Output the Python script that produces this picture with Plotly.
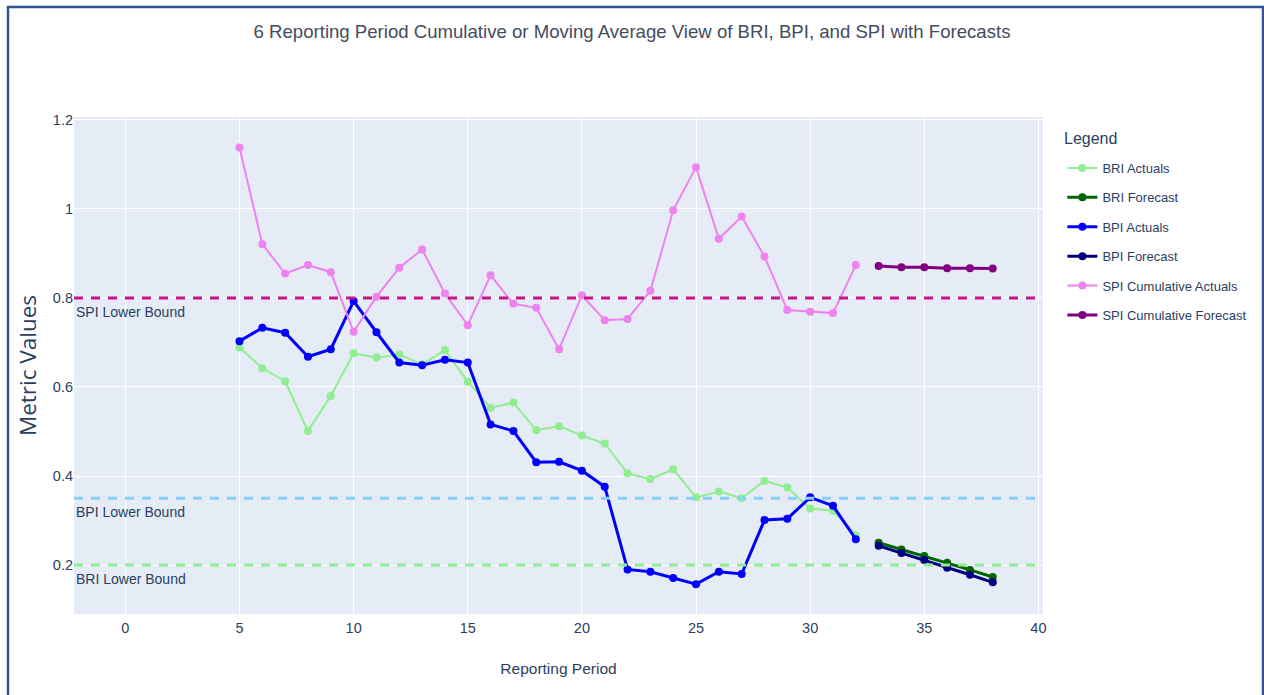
import plotly.graph_objects as go

# ---- data ----
periods_actual = list(range(5, 33))
periods_forecast = list(range(33, 39))

bri_actual = [0.689, 0.642, 0.613, 0.501, 0.580, 0.676, 0.666, 0.673, 0.651, 0.683,
              0.612, 0.553, 0.565, 0.503, 0.512, 0.491, 0.473, 0.406, 0.393, 0.415,
              0.352, 0.365, 0.350, 0.389, 0.374, 0.327, 0.322, 0.267]
bri_forecast = [0.250, 0.235, 0.220, 0.205, 0.189, 0.173]

bpi_actual = [0.703, 0.733, 0.722, 0.668, 0.685, 0.793, 0.723, 0.655, 0.649, 0.661,
              0.655, 0.516, 0.501, 0.431, 0.432, 0.412, 0.376, 0.190, 0.185, 0.171,
              0.157, 0.185, 0.180, 0.301, 0.304, 0.352, 0.333, 0.258]
bpi_forecast = [0.243, 0.227, 0.211, 0.194, 0.178, 0.161]

spi_actual = [1.138, 0.921, 0.855, 0.874, 0.858, 0.724, 0.803, 0.868, 0.909, 0.810,
              0.739, 0.851, 0.787, 0.778, 0.685, 0.806, 0.750, 0.753, 0.816, 0.997,
              1.094, 0.933, 0.983, 0.893, 0.773, 0.769, 0.766, 0.874]
spi_forecast = [0.872, 0.869, 0.869, 0.867, 0.867, 0.866]

bound_names = ["SPI Lower Bound", "BPI Lower Bound", "BRI Lower Bound"]
bound_values = [0.8, 0.35, 0.2]
bound_colors = ["#C71585", "#87CEFA", "#90EE90"]

SANS = "Liberation Sans, Arial, sans-serif"
TXT = "#2a3f5f"

fig = go.Figure()

series = [
    ("BRI Actuals", periods_actual, bri_actual, "#90EE90", 2),
    ("BRI Forecast", periods_forecast, bri_forecast, "#006400", 3),
    ("BPI Actuals", periods_actual, bpi_actual, "#0000FF", 3),
    ("BPI Forecast", periods_forecast, bpi_forecast, "#000080", 3),
    ("SPI Cumulative Actuals", periods_actual, spi_actual, "#EE82EE", 2),
    ("SPI Cumulative Forecast", periods_forecast, spi_forecast, "#800080", 3),
]
for i, (name, xs, ys, col, w) in enumerate(series):
    fig.add_trace(go.Scatter(
        x=xs, y=ys, mode="lines+markers", name=name, legendgroup=f"g{i}",
        line=dict(color=col, width=w), marker=dict(color=col, size=8)))

for name, val, col in zip(bound_names, bound_values, bound_colors):
    fig.add_hline(y=val, line=dict(color=col, width=3, dash="9px,8px"))
    fig.add_annotation(x=0, xref="paper", xanchor="left", y=val, yref="y",
                       yanchor="top", text=name, showarrow=False, yshift=-4,
                       font=dict(family=SANS, size=14, color=TXT))

# frame around the screenshot
PL, PR, PT, PB = 74, 1043, 117, 614
pw, ph = PR - PL, PB - PT
fig.add_shape(type="rect", xref="paper", yref="paper",
              x0=(8 - PL) / pw, x1=(1263 - PL) / pw,
              y0=(PB - 730) / ph, y1=(PB - 7) / ph,
              line=dict(color="#2F5597", width=2.5), layer="above")

# legend heading
fig.add_annotation(x=1.02, xref="paper", xanchor="left", y=(PB - 138) / ph, yref="paper",
                   yanchor="middle", text="Legend", showarrow=False,
                   font=dict(family=SANS, size=16, color=TXT))

fig.update_layout(
    autosize=False, width=1264, height=695,
    margin=dict(l=PL, r=1264 - PR, t=PT, b=695 - PB),
    paper_bgcolor="white", plot_bgcolor="#E5ECF6",
    font=dict(family=SANS, size=14, color=TXT),
    title=dict(text="6 Reporting Period Cumulative or Moving Average View of BRI, BPI, and SPI with Forecasts",
               x=0.5, xanchor="center", xref="container",
               y=1 - 31 / 695, yanchor="middle", yref="container",
               font=dict(family=SANS, size=18.6, color="#434c5e")),
    legend=dict(font=dict(family=SANS, size=13, color=TXT),
                x=1.02, xanchor="left", y=(PB - 153) / ph, yanchor="top",
                tracegroupgap=9.5, traceorder="grouped"),
    xaxis=dict(range=[-2.25, 40.2], dtick=5, tick0=0, gridcolor="white",
               zeroline=False, showline=False, ticklabelstandoff=3,
               title=dict(text="Reporting Period", font=dict(family=SANS, size=15.5), standoff=28),
               tickfont=dict(family=SANS, size=14.5)),
    yaxis=dict(range=[0.0899, 1.2067], dtick=0.2, tick0=0, gridcolor="white",
               zeroline=False, showline=False,
               title=dict(text="Metric Values", font=dict(family="Open Sans, DejaVu Sans, sans-serif", size=22.5), standoff=9),
               tickfont=dict(family=SANS, size=14.5)),
)

fig.write_html("out.html", config={"displayModeBar": False, "responsive": False},
               post_script="document.body.style.margin='0';")
